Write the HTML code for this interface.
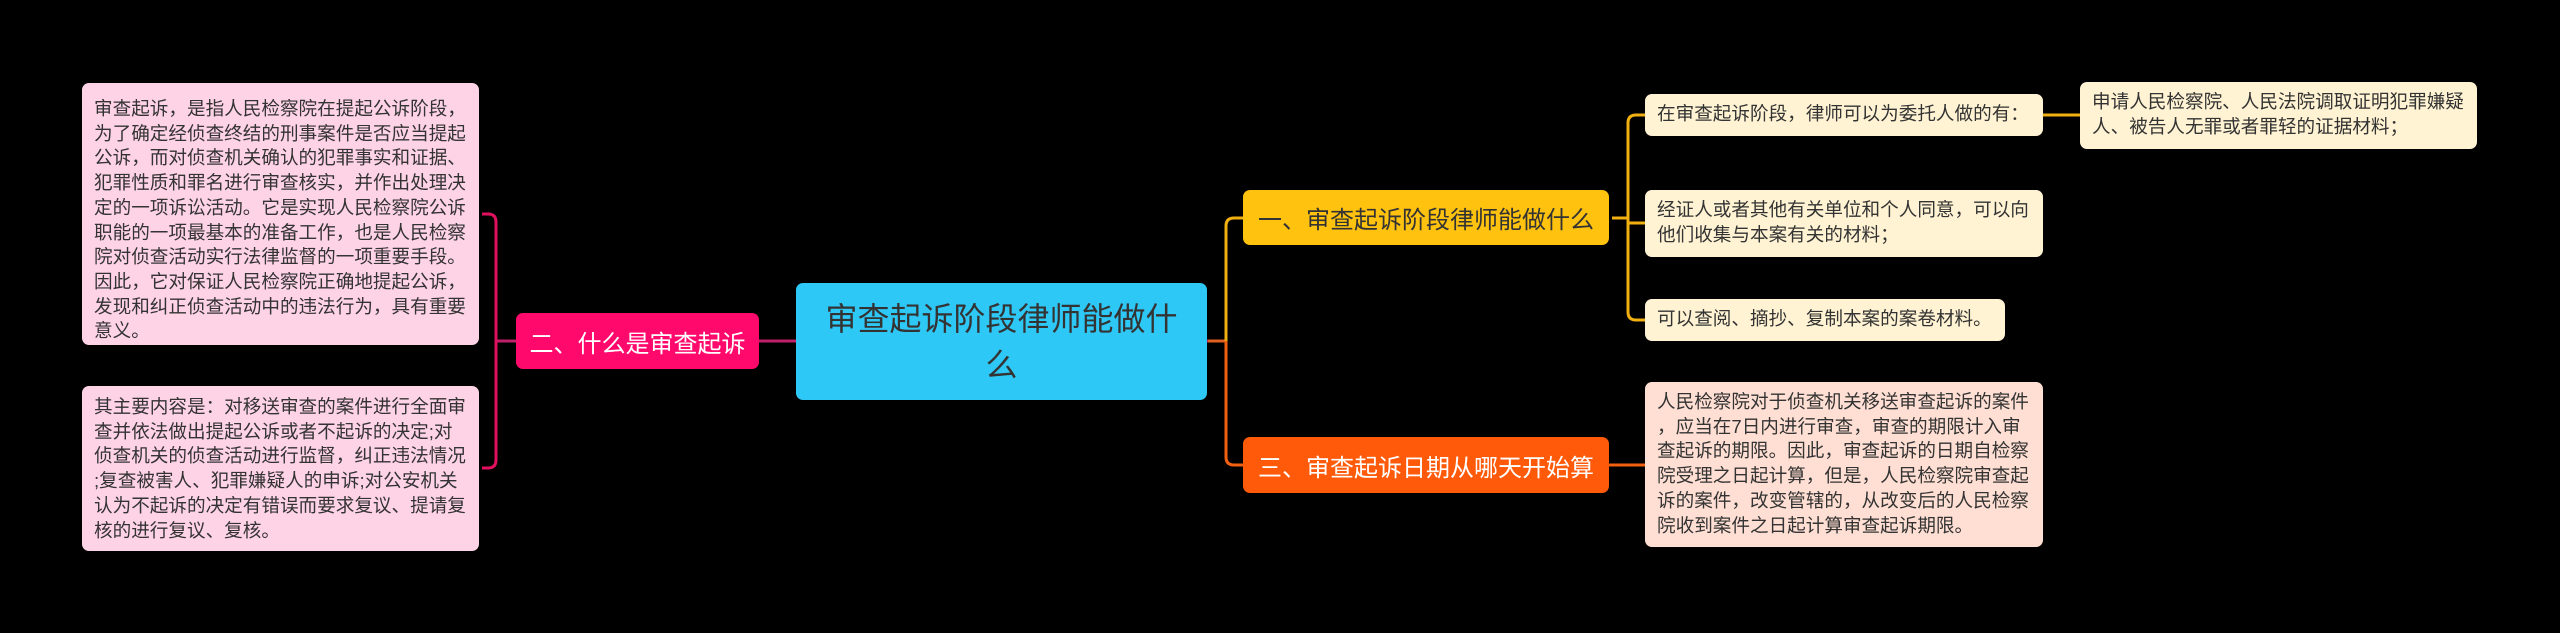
<!DOCTYPE html>
<html><head><meta charset="utf-8"><style>
body{margin:0;width:2560px;height:633px;background:#000;position:relative;overflow:hidden;font-family:"Liberation Sans","Noto Sans CJK SC",sans-serif}
.b{position:absolute;box-sizing:border-box;border-radius:7px;color:#333;font-size:18.6px;line-height:24.7px;padding:6px 5px 6px 12px;white-space:nowrap;overflow:hidden}
.n{position:absolute;box-sizing:border-box;border-radius:7px;display:flex;align-items:center;justify-content:center;font-size:24px}
svg{position:absolute;left:0;top:0}
</style></head><body>
<svg width="2560" height="633" fill="none" stroke-width="3">
<path d="M496 341 H1226" stroke="#c0206a"/>
<path d="M482 214 H488 Q496 214 496 222 V460 Q496 468 488 468 H482" stroke="#e0105f"/>
<path d="M1208 341 H1226" stroke="#e06020"/>
<path d="M1243 218 H1234 Q1226 218 1226 226 V341" stroke="#f0b010"/>
<path d="M1226 341 V457 Q1226 465 1234 465 H1243" stroke="#f06010"/>
<path d="M1612 218 H1628 M1645 115 H1636 Q1628 115 1628 123 V312 Q1628 320 1636 320 H1645 M1628 223 H1645" stroke="#f0b010"/>
<path d="M2043 115 H2080" stroke="#f0b010"/>
<path d="M1609 465 H1645" stroke="#f06010"/>
</svg>
<div class="b" style="left:82px;top:83px;width:397px;height:262px;background:#ffd3e6;padding-top:14px">审查起诉，是指人民检察院在提起公诉阶段，<br>为了确定经侦查终结的刑事案件是否应当提起<br>公诉，而对侦查机关确认的犯罪事实和证据、<br>犯罪性质和罪名进行审查核实，并作出处理决<br>定的一项诉讼活动。它是实现人民检察院公诉<br>职能的一项最基本的准备工作，也是人民检察<br>院对侦查活动实行法律监督的一项重要手段。<br>因此，它对保证人民检察院正确地提起公诉，<br>发现和纠正侦查活动中的违法行为，具有重要<br>意义。</div>
<div class="b" style="left:82px;top:386px;width:397px;height:165px;background:#ffd3e6;padding-top:9px">其主要内容是：对移送审查的案件进行全面审<br>查并依法做出提起公诉或者不起诉的决定;对<br>侦查机关的侦查活动进行监督，纠正违法情况<br>;复查被害人、犯罪嫌疑人的申诉;对公安机关<br>认为不起诉的决定有错误而要求复议、提请复<br>核的进行复议、复核。</div>
<div class="n" style="left:516px;top:313px;width:243px;height:56px;background:#ff0a6c;color:#fff">二、什么是审查起诉</div>
<div class="n" style="left:796px;top:283px;width:411px;height:117px;background:#2ec8f6;color:#333;font-size:32px;line-height:46px;text-align:center;padding:0 14px">审查起诉阶段律师能做什么</div>
<div class="n" style="left:1243px;top:190px;width:366px;height:55px;background:#ffc20e;color:#333">一、审查起诉阶段律师能做什么</div>
<div class="n" style="left:1243px;top:437px;width:366px;height:56px;background:#ff5a0a;color:#fff">三、审查起诉日期从哪天开始算</div>
<div class="b" style="left:1645px;top:94px;width:398px;height:42px;background:#fff3d3;padding-top:8px">在审查起诉阶段，律师可以为委托人做的有：</div>
<div class="b" style="left:1645px;top:190px;width:398px;height:67px;background:#fff3d3;padding-top:8px">经证人或者其他有关单位和个人同意，可以向<br>他们收集与本案有关的材料；</div>
<div class="b" style="left:1645px;top:299px;width:360px;height:42px;background:#fff3d3;padding-top:8px">可以查阅、摘抄、复制本案的案卷材料。</div>
<div class="b" style="left:1645px;top:382px;width:398px;height:165px;background:#ffdfd3;padding-top:8px">人民检察院对于侦查机关移送审查起诉的案件<br>，应当在7日内进行审查，审查的期限计入审<br>查起诉的期限。因此，审查起诉的日期自检察<br>院受理之日起计算，但是，人民检察院审查起<br>诉的案件，改变管辖的，从改变后的人民检察<br>院收到案件之日起计算审查起诉期限。</div>
<div class="b" style="left:2080px;top:82px;width:397px;height:67px;background:#fff3d3;padding-top:8px">申请人民检察院、人民法院调取证明犯罪嫌疑<br>人、被告人无罪或者罪轻的证据材料；</div>
</body></html>
